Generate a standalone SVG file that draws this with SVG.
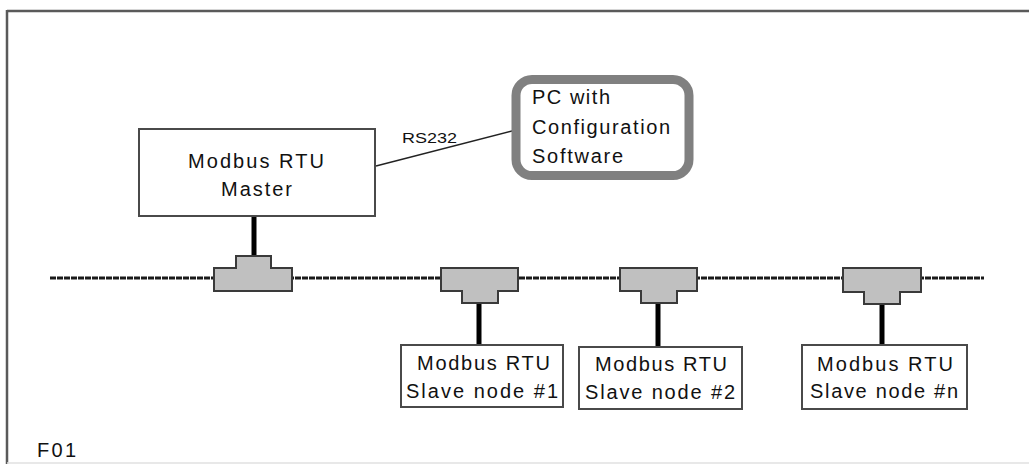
<svg xmlns="http://www.w3.org/2000/svg" width="1029" height="464" viewBox="0 0 1029 464">
<style>
  .box { fill: #ffffff; stroke: #4a4a4a; stroke-width: 2; }
  .tee { fill: #c0c0c0; stroke: #3a3a3a; stroke-width: 2; stroke-linejoin: miter; }
  .drop { stroke: #000000; stroke-width: 5; fill: none; }
  .bus { stroke: #1a1a1a; stroke-width: 3; stroke-dasharray: 6 1; fill: none; }
  .txt { font-family: "Liberation Sans", Arial, sans-serif; font-size: 20px; fill: #111111; }
  .small { font-family: "Liberation Sans", Arial, sans-serif; font-size: 15px; fill: #111111; }
</style>
<rect x="0" y="0" width="1029" height="464" fill="#ffffff"/>
<g id="frame">
  <line x1="7" y1="11" x2="1029" y2="11" stroke="#5a5a5a" stroke-width="2.5"/>
  <line x1="7" y1="10" x2="7" y2="464" stroke="#5a5a5a" stroke-width="2.5"/>
  <line x1="7" y1="463" x2="1029" y2="463" stroke="#e0e0e0" stroke-width="1.5"/>
</g>
<g id="connectors">
  <line class="bus" x1="50" y1="278" x2="984" y2="278"/>
  <line x1="376" y1="166" x2="516" y2="130" stroke="#222222" stroke-width="1.5"/>
  <line class="drop" x1="254" y1="216" x2="254" y2="256"/>
  <line class="drop" x1="479" y1="302" x2="479" y2="345"/>
  <line class="drop" x1="658" y1="302" x2="658" y2="347"/>
  <line class="drop" x1="882" y1="303" x2="882" y2="344"/>
</g>
<g id="label-rs232">
  <text class="small" x="402" y="143" textLength="55" lengthAdjust="spacingAndGlyphs">RS232</text>
</g>
<g id="master">
  <rect class="box" x="139" y="129" width="236" height="87"/>
  <text class="txt" x="188" y="168" textLength="136" lengthAdjust="spacing">Modbus RTU</text>
  <text class="txt" x="221" y="196" textLength="71" lengthAdjust="spacing">Master</text>
</g>
<g id="pc">
  <rect x="516" y="79.5" width="173" height="96" rx="16" ry="16" fill="#ffffff" stroke="#808080" stroke-width="9"/>
  <text class="txt" x="532" y="104" textLength="78" lengthAdjust="spacing">PC with</text>
  <text class="txt" x="532" y="134" textLength="138" lengthAdjust="spacing">Configuration</text>
  <text class="txt" x="532" y="163" textLength="91" lengthAdjust="spacing">Software</text>
</g>
<g id="tee-master">
  <path class="tee" d="M214,268 H236 V256 H271 V268 H292 V291 H214 Z"/>
</g>
<g id="tee-slave1">
  <path class="tee" d="M441,268 H518 V291 H498 V303 H462 V291 H441 Z"/>
</g>
<g id="tee-slave2">
  <path class="tee" d="M620,268 H697 V291 H677 V303 H641 V291 H620 Z"/>
</g>
<g id="tee-slaven">
  <path class="tee" d="M843,268 H921 V292 H900 V304 H864 V292 H843 Z"/>
</g>
<g id="slave1">
  <rect class="box" x="401" y="345" width="162" height="62"/>
  <text class="txt" x="417" y="370" textLength="133" lengthAdjust="spacing">Modbus RTU</text>
  <text class="txt" x="406" y="398" textLength="152" lengthAdjust="spacing">Slave node #1</text>
</g>
<g id="slave2">
  <rect class="box" x="579" y="347" width="163" height="62"/>
  <text class="txt" x="595" y="371" textLength="132" lengthAdjust="spacing">Modbus RTU</text>
  <text class="txt" x="585" y="399" textLength="150" lengthAdjust="spacing">Slave node #2</text>
</g>
<g id="slaven">
  <rect class="box" x="802" y="345" width="165" height="64"/>
  <text class="txt" x="817" y="371" textLength="136" lengthAdjust="spacing">Modbus RTU</text>
  <text class="txt" x="810" y="398" textLength="148" lengthAdjust="spacing">Slave node #n</text>
</g>
<g id="label-f01">
  <text class="txt" x="37" y="457" textLength="39" lengthAdjust="spacing">F01</text>
</g>
</svg>
